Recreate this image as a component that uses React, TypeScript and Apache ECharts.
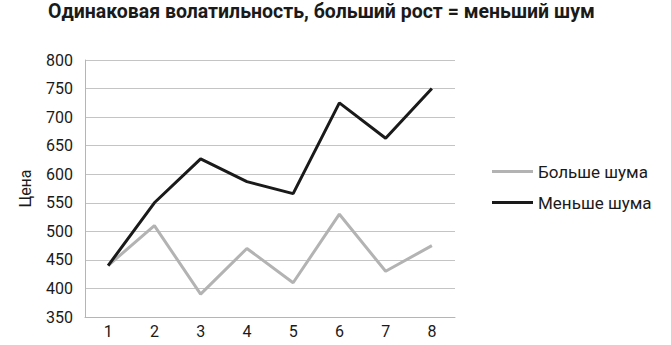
import React, { useEffect, useRef } from "react";
import * as echarts from "echarts";

const categories = ["1", "2", "3", "4", "5", "6", "7", "8"];
const moreNoise = [440, 510, 390, 470, 410, 530, 430, 475];
const lessNoise = [440, 550, 627, 587, 566, 725, 663, 750];
const seriesNames = ["Больше шума", "Меньше шума"];
const titleText = "Одинаковая волатильность, больший рост = меньший шум";
const yAxisName = "Цена";

export default function App() {
  const ref = useRef<HTMLDivElement>(null);
  useEffect(() => {
    if (!ref.current) return;
    const chart = echarts.init(ref.current, null, { renderer: "svg" });
    const font = "Roboto";
    chart.setOption({
      animation: false,
      backgroundColor: "#ffffff",
      title: {
        text: titleText,
        left: 48,
        top: 1,
        padding: 0,
        textStyle: { fontFamily: "Roboto", fontWeight: "bold", fontSize: 19.5, color: "#1a1a1a" },
      },
      legend: {
        orient: "vertical",
        left: 487,
        top: 158,
        itemWidth: 41,
        itemHeight: 3,
        itemGap: 14,
        icon: "rect",
        textStyle: { fontFamily: font, fontSize: 17, color: "#1a1a1a" },
        data: seriesNames,
      },
      grid: { left: 85, top: 60, width: 370, height: 257 },
      xAxis: {
        type: "category",
        data: categories,
        axisLine: { show: true, lineStyle: { color: "#b5b5b5", width: 1 } },
        axisTick: { show: false },
        axisLabel: { fontFamily: font, fontSize: 16, color: "#1a1a1a", margin: 6 },
      },
      yAxis: {
        type: "value",
        min: 350,
        max: 800,
        interval: 50,
        name: yAxisName,
        nameLocation: "middle",
        nameGap: 52,
        nameRotate: 90,
        nameTextStyle: { fontFamily: font, fontSize: 16, color: "#1a1a1a" },
        axisLine: { show: true, lineStyle: { color: "#b5b5b5", width: 1 } },
        axisTick: { show: false },
        splitLine: { lineStyle: { color: "#c4c4c4", width: 1 } },
        axisLabel: { fontFamily: font, fontSize: 16, color: "#1a1a1a", margin: 12 },
      },
      series: [
        {
          name: seriesNames[0],
          type: "line",
          data: moreNoise,
          symbol: "none",
          lineStyle: { color: "#b3b3b3", width: 3 },
          itemStyle: { color: "#b3b3b3" },
        },
        {
          name: seriesNames[1],
          type: "line",
          data: lessNoise,
          symbol: "none",
          lineStyle: { color: "#1a1a1a", width: 3 },
          itemStyle: { color: "#1a1a1a" },
        },
      ],
    });
    return () => chart.dispose();
  }, []);
  return <div ref={ref} style={{ width: 671, height: 345, position: "absolute", left: 0, top: 0 }} />;
}
